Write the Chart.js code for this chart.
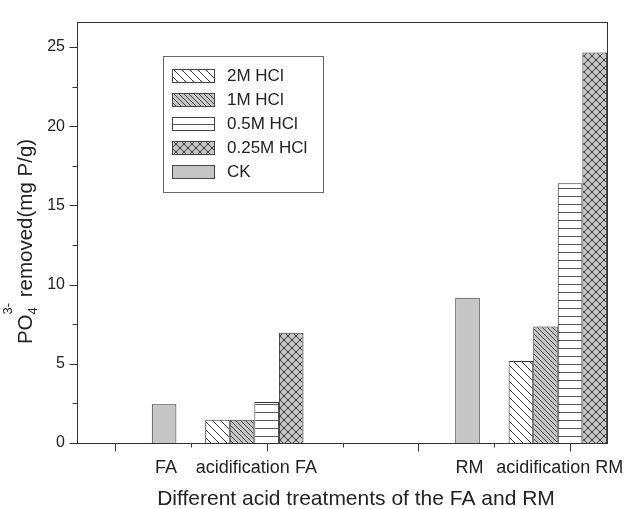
<!DOCTYPE html>
<html>
<head>
<meta charset="utf-8">
<script src="https://cdn.jsdelivr.net/npm/chart.js@4/dist/chart.umd.min.js"></script>
<style>
  html, body { margin: 0; padding: 0; background: #fff; }
  canvas { display: block; }
</style>
</head>
<body>
<canvas id="c" width="629" height="509"></canvas>
<script>
// values (mg P/g)
const categories = ['FA', 'acidification FA', 'RM', 'acidification RM'];
const seriesNames = ['2M HCl', '1M HCl', '0.5M HCl', '0.25M HCl', 'CK'];
const hcl2M = [null, 1.46, null, 5.17];
const hcl1M = [null, 1.46, null, 7.35];
const hcl05M = [null, 2.59, null, 16.4];
const hcl025M = [null, 6.96, null, 24.65];
const ck = [2.45, null, 9.17, null];

const FONT = "'Liberation Sans', Arial, sans-serif";
const canvas = document.getElementById('c');
const mainCtx = canvas.getContext('2d');

// hatch fills
function makePattern(bg, size, lineColor, draw) {
  const tile = document.createElement('canvas');
  tile.width = size;
  tile.height = size;
  const g = tile.getContext('2d');
  g.fillStyle = bg;
  g.fillRect(0, 0, size, size);
  g.strokeStyle = lineColor;
  g.lineWidth = 1;
  g.beginPath();
  draw(g, size);
  g.stroke();
  return mainCtx.createPattern(tile, 'repeat');
}
function back(g, s) {
  for (const k of [-s, 0, s]) { g.moveTo(k, 0); g.lineTo(k + s, s); }
}
function fwd(g, s) {
  for (const k of [-s, 0, s]) { g.moveTo(k, s); g.lineTo(k + s, 0); }
}
const GRAY = '#c6c6c6';
const fills = [
  makePattern('#ffffff', 8, '#3a3a3a', back),
  makePattern(GRAY, 5, '#454545', back),
  makePattern('#ffffff', 8, '#555555', (g, s) => { g.moveTo(0, 4.5); g.lineTo(s, 4.5); }),
  makePattern(GRAY, 8, '#3a3a3a', (g, s) => { back(g, s); fwd(g, s); }),
  GRAY
];

const allSeries = [hcl2M, hcl1M, hcl05M, hcl025M, ck];
const datasets = allSeries.map((vals, k) => ({
  label: seriesNames[k],
  data: vals.map((v, i) => ({ x: i + 1, y: v })),
  backgroundColor: fills[k],
  borderColor: '#333',
  borderWidth: 1,
  categoryPercentage: 0.81,
  barPercentage: 1
}));

const onStep = (v, step) => Math.abs(v / step - Math.round(v / step)) < 1e-6;

const decor = {
  id: 'decor',
  afterDraw(chart) {
    const { ctx, chartArea: a, scales: { x, y } } = chart;
    const L = Math.round(a.left) + 0.5;
    const R = Math.round(a.right) - 0.5;
    const T = Math.round(a.top) + 0.5;
    const B = Math.round(a.bottom) + 0.5;
    ctx.save();
    ctx.strokeStyle = '#333';
    ctx.lineWidth = 1;
    ctx.strokeRect(L, T, R - L, B - T);

    // y ticks
    ctx.beginPath();
    y.ticks.forEach(t => {
      if (!onStep(t.value, 2.5)) return;
      const py = Math.round(y.getPixelForValue(t.value)) + 0.5;
      const len = onStep(t.value, 5) ? 8 : 5;
      ctx.moveTo(L - len, py);
      ctx.lineTo(L, py);
    });
    // x ticks: majors at categories, minors halfway
    const xs = x.ticks.map(t => t.value);
    xs.forEach((v, i) => {
      const px = Math.round(x.getPixelForValue(v)) + 0.5;
      ctx.moveTo(px, B);
      ctx.lineTo(px, B + 8);
      if (i > 0) {
        const mx = Math.round(x.getPixelForValue((v + xs[i - 1]) / 2)) + 0.5;
        ctx.moveTo(mx, B);
        ctx.lineTo(mx, B + 4);
      }
    });
    ctx.stroke();

    // category labels centred on the bars that exist
    ctx.fillStyle = '#222';
    ctx.font = '18px ' + FONT;
    ctx.textAlign = 'center';
    ctx.textBaseline = 'alphabetic';
    categories.forEach((name, i) => {
      let lo = Infinity, hi = -Infinity;
      chart.data.datasets.forEach((ds, k) => {
        if (ds.data[i].y === null) return;
        const el = chart.getDatasetMeta(k).data[i];
        lo = Math.min(lo, el.x - el.width / 2);
        hi = Math.max(hi, el.x + el.width / 2);
      });
      ctx.fillText(name, (lo + hi) / 2 + 2, 473);
    });

    // x title
    ctx.font = '21px ' + FONT;
    ctx.fillText('Different acid treatments of the FA and RM', 356, 505);

    // y title with sub/superscript
    ctx.save();
    ctx.translate(32, 241.5);
    ctx.rotate(-Math.PI / 2);
    ctx.textAlign = 'left';
    const big = '20.5px ' + FONT, small = '13px ' + FONT;
    ctx.font = big;
    const wPO = ctx.measureText('PO').width;
    const rest = ' removed(mg P/g)';
    const wRest = ctx.measureText(rest).width;
    ctx.font = small;
    const wScript = Math.max(ctx.measureText('3-').width, ctx.measureText('4').width);
    let sx = -(wPO + wScript + wRest) / 2;
    ctx.font = big;
    ctx.fillText('PO', sx, 0);
    sx += wPO;
    ctx.font = small;
    ctx.fillText('4', sx, 5);
    ctx.fillText('3-', sx, -20);
    sx += wScript;
    ctx.font = big;
    ctx.fillText(rest, sx, 0);
    ctx.restore();

    // legend
    const bx = 163.5, by = 56.5, bw = 160, bh = 136;
    ctx.fillStyle = '#fff';
    ctx.fillRect(bx, by, bw, bh);
    ctx.strokeStyle = '#666';
    ctx.strokeRect(bx, by, bw, bh);
    ctx.font = '17px ' + FONT;
    ctx.textAlign = 'left';
    ctx.textBaseline = 'middle';
    chart.data.datasets.forEach((ds, k) => {
      const cy = 75.7 + k * 23.9;
      const top = Math.round(cy - 6.5) + 0.5;
      ctx.fillStyle = ds.backgroundColor;
      ctx.fillRect(172.5, top, 42, 13);
      ctx.strokeStyle = '#444';
      ctx.strokeRect(172.5, top, 42, 13);
      ctx.fillStyle = '#222';
      ctx.fillText(ds.label, 227, cy + 1);
    });
    ctx.restore();
  }
};

new Chart(canvas, {
  type: 'bar',
  data: { datasets },
  options: {
    responsive: false,
    animation: false,
    devicePixelRatio: 1,
    layout: { padding: { top: 11, right: 21, left: 0, bottom: 0 } },
    plugins: { legend: { display: false }, tooltip: { enabled: false } },
    scales: {
      x: {
        type: 'linear',
        offset: false,
        min: 0.75,
        max: 4.25,
        grid: { display: false, drawTicks: false },
        border: { display: false },
        ticks: { display: false },
        afterBuildTicks: s => { s.ticks = categories.map((c, i) => ({ value: i + 1 })); },
        afterFit: s => { s.height = 66; }
      },
      y: {
        min: 0,
        max: 26.6,
        grid: { display: false, drawTicks: false },
        border: { display: false },
        ticks: {
          stepSize: 2.5,
          padding: 12,
          color: '#222',
          font: { size: 16, family: FONT },
          callback: v => (onStep(v, 5) ? v : '')
        },
        afterFit: s => { s.width = 77; }
      }
    }
  },
  plugins: [decor]
});
</script>
</body>
</html>
